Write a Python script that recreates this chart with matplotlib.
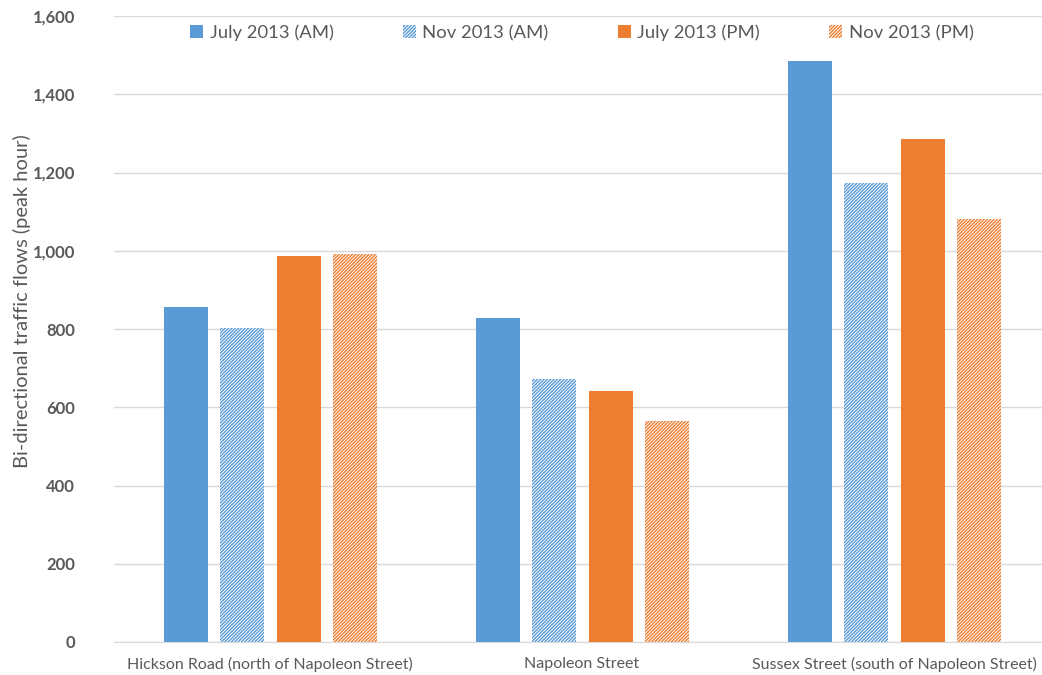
import matplotlib
matplotlib.use("Agg")
import matplotlib.pyplot as plt
import numpy as np
from matplotlib.ticker import FuncFormatter

plt.rcParams['hatch.linewidth'] = 1.0

locations = ["Hickson Road (north of Napoleon Street)", "Napoleon Street",
             "Sussex Street (south of Napoleon Street)"]
series_names = ["July 2013 (AM)", "Nov 2013 (AM)", "July 2013 (PM)", "Nov 2013 (PM)"]
july_am = [856, 828, 1485]
nov_am = [803, 672, 1172]
july_pm = [987, 641, 1285]
nov_pm = [992, 565, 1081]
y_ticks = [0, 200, 400, 600, 800, 1000, 1200, 1400, 1600]

blue = "#5B9BD5"
orange = "#ED7D31"
grey_text = "#595959"

fig = plt.figure(figsize=(10.42, 6.75), dpi=100)
ax = fig.add_axes([114 / 1042, 33 / 675, 936 / 1042, 626 / 675])

x = np.arange(len(locations))
width = 0.141
offsets = [-0.270, -0.090, 0.092, 0.272]
series = [july_am, nov_am, july_pm, nov_pm]
styles = [
    dict(color=blue),
    dict(facecolor="white", edgecolor=blue, hatch="//////////", linewidth=0),
    dict(color=orange),
    dict(facecolor="white", edgecolor=orange, hatch="//////////", linewidth=0),
]
for vals, off, st, name in zip(series, offsets, styles, series_names):
    ax.bar(x + off, vals, width, label=name, zorder=3, **st)

ax.set_xlim(-0.5, 2.5)
ax.set_ylim(0, 1600)
ax.set_yticks(y_ticks)
ax.yaxis.set_major_formatter(FuncFormatter(lambda v, p: f"{int(v):,}"))
ax.set_xticks(x)
ax.set_xticklabels(locations, fontsize=11.5, color=grey_text, family="Lato")
for lbl in ax.get_yticklabels():
    lbl.set_fontweight("bold")
    lbl.set_fontsize(12)
    lbl.set_color(grey_text)
    lbl.set_family("Lato")
ax.tick_params(axis="both", length=0)
ax.tick_params(axis="y", pad=28)
ax.tick_params(axis="x", pad=11)
ax.grid(axis="y", color="#D9D9D9", linewidth=1, zorder=0)
for s in ["top", "right", "left"]:
    ax.spines[s].set_visible(False)
ax.spines["bottom"].set_color("#D9D9D9")

fig.text(22 / 1042, 1 - 301 / 675, "Bi-directional traffic flows (peak hour)",
         rotation=90, ha="center", va="center", fontsize=14.5,
         color=grey_text, family="Lato")

leg = ax.legend(loc="center", bbox_to_anchor=(0.5, 0.973), ncol=4,
                frameon=False, handlelength=0.7, handleheight=0.7,
                handletextpad=0.35, columnspacing=3.75,
                prop={"family": "Lato", "size": 13.3})
for t in leg.get_texts():
    t.set_color(grey_text)

fig.savefig("out.png", dpi=100)
